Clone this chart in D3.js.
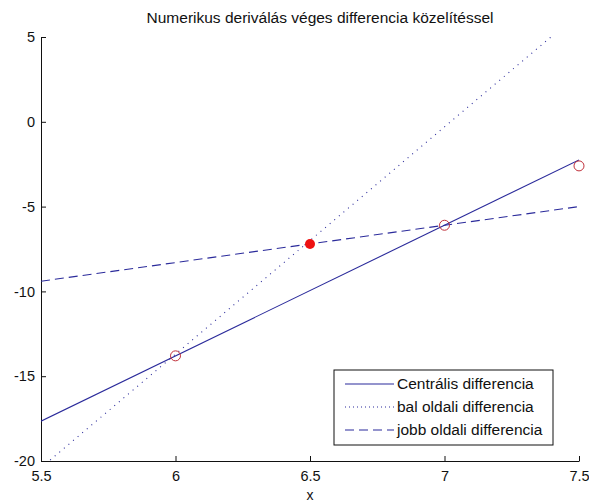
<!DOCTYPE html>
<html lang="hu">
  <head>
    <meta charset="UTF-8" />
    <title>Numerikus deriválás</title>
    <style>
      * {
        margin: 0;
        padding: 0;
      }
      body {
        background: #fff;
      }
      text {
        font-family: 'Liberation Sans', Arial, sans-serif;
        font-size: 15px;
        fill: #111;
      }
    </style>
  </head>
  <body>
    <script src="https://cdn.jsdelivr.net/npm/d3@7"></script>
    <script>
      // adatok
      const xTicks = [5.5, 6, 6.5, 7, 7.5]
      const yTicks = [5, 0, -5, -10, -15, -20]
      const lineNames = ['Centrális differencia', 'bal oldali differencia', 'jobb oldali differencia']
      const centralLine = [[5.5, -17.65], [7.5, -2.25]]
      const leftLine = [[5.5, -20.4], [7.5, 6.4]]
      const rightLine = [[5.5, -9.4], [7.5, -5.0]]
      const openPoints = [[6, -13.8], [7, -6.1], [7.5, -2.6]]
      const filledPoint = [[6.5, -7.2]]

      const W = 589, H = 502
      const m = { left: 41, right: 10, top: 37, bottom: 41 }
      const blue = '#2b2b9b'

      const svg = d3.select('body').append('svg').attr('width', W).attr('height', H)

      const x = d3.scaleLinear().domain([5.5, 7.5]).range([m.left, W - m.right])
      const y = d3.scaleLinear().domain([-20, 5]).range([H - m.bottom, m.top])

      svg.append('clipPath').attr('id', 'plot')
        .append('rect')
        .attr('x', m.left).attr('y', m.top)
        .attr('width', W - m.left - m.right).attr('height', H - m.top - m.bottom)

      // tengelyek
      const fmt = d => String(d)
      svg.append('g')
        .attr('transform', `translate(0,${H - m.bottom})`)
        .call(d3.axisBottom(x).tickValues(xTicks).tickSizeInner(-5).tickSizeOuter(0).tickPadding(10).tickFormat(fmt))
      svg.append('g')
        .attr('transform', `translate(${m.left},0)`)
        .call(d3.axisLeft(y).tickValues(yTicks).tickSizeInner(-5).tickSizeOuter(0).tickPadding(6).tickFormat(fmt))
      svg.selectAll('.domain').attr('stroke', '#111')
      svg.selectAll('.tick line').attr('stroke', '#111')
      svg.selectAll('.tick text').style('font-size', '14.5px').attr('fill', '#222')
        .style('font-family', "'Liberation Sans', Arial, sans-serif")

      const line = d3.line().x(d => x(d[0])).y(d => y(d[1]))
      const g = svg.append('g').attr('clip-path', 'url(#plot)')

      g.append('path').datum(centralLine).attr('d', line)
        .attr('fill', 'none').attr('stroke', blue).attr('stroke-width', 1.1)
      g.append('path').datum(leftLine).attr('d', line)
        .attr('fill', 'none').attr('stroke', blue).attr('stroke-width', 1.1)
        .attr('stroke-dasharray', '1,5')
      g.append('path').datum(rightLine).attr('d', line)
        .attr('fill', 'none').attr('stroke', blue).attr('stroke-width', 1.1)
        .attr('stroke-dasharray', '9,5')

      svg.selectAll('.open').data(openPoints).enter().append('circle')
        .attr('cx', d => x(d[0])).attr('cy', d => y(d[1])).attr('r', 5)
        .attr('fill', 'none').attr('stroke', '#c0303a').attr('stroke-width', 1)
      svg.selectAll('.filled').data(filledPoint).enter().append('circle')
        .attr('cx', d => x(d[0])).attr('cy', d => y(d[1])).attr('r', 5)
        .attr('fill', '#ee1111')

      // cím, felirat
      svg.append('text').attr('x', 320).attr('y', 23).attr('text-anchor', 'middle')
        .style('font-size', '15.5px')
        .text('Numerikus deriválás véges differencia közelítéssel')
      svg.append('text').attr('x', 310).attr('y', 500).attr('text-anchor', 'middle')
        .style('font-size', '14px')
        .text('x')

      // jelmagyarázat
      const lg = svg.append('g').attr('transform', 'translate(334,370)')
      lg.append('rect').attr('width', 219).attr('height', 75)
        .attr('fill', '#fff').attr('stroke', '#111')
      const dashes = [null, '1,3', '9,5']
      lineNames.forEach((name, i) => {
        const yy = 14 + i * 23
        lg.append('line').attr('x1', 11).attr('x2', 60).attr('y1', yy).attr('y2', yy)
          .attr('stroke', blue).attr('stroke-width', 1.1)
          .attr('stroke-dasharray', dashes[i])
        lg.append('text').attr('x', 63).attr('y', yy + 5).style('font-size', '15.5px').text(name)
      })
    </script>
  </body>
</html>
